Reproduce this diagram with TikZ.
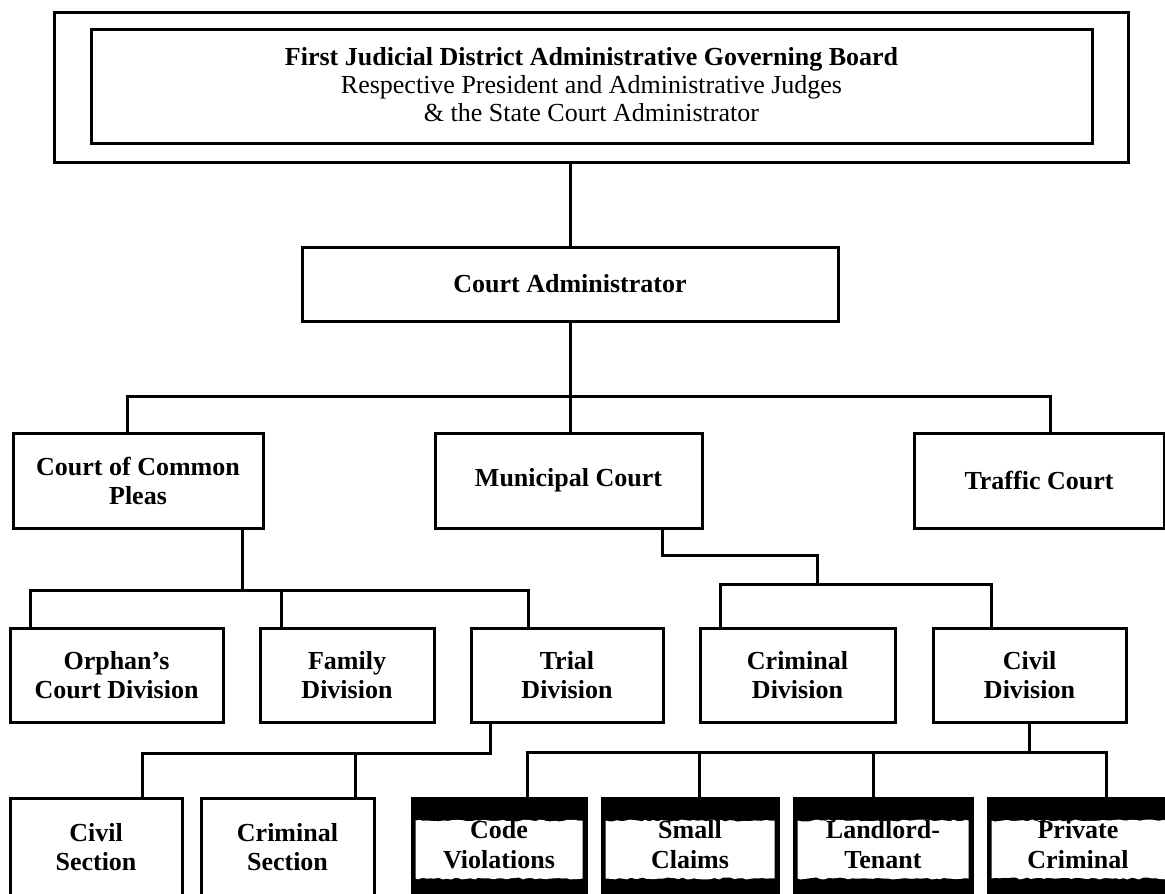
\documentclass[tikz,border=0pt]{standalone}
\usepackage{fontspec}
\setmainfont{Liberation Serif}
\usetikzlibrary{decorations.pathmorphing}
\begin{document}
\begin{tikzpicture}[x=1pt,y=-1pt,
  box/.style={draw, line width=3pt, fill=white, align=center, inner sep=0pt,
    font=\bfseries\fontsize{26}{29}\selectfont},
  darkbox/.style={draw, line width=3pt, fill=black, inner sep=0pt},
  lbl/.style={align=center, inner sep=0pt, font=\bfseries\fontsize{26}{30}\selectfont},
  conn/.style={line width=3pt},
  band/.style={fill=white, decoration={random steps, segment length=4pt, amplitude=1pt}}]
\useasboundingbox (0,0) rectangle (1165,894);
% top board
\node[draw, line width=3pt, minimum width=1074pt, minimum height=150pt] (outer) at (591,87) {};
\node[draw, line width=3pt, minimum width=1001pt, minimum height=114pt] (inner) at (591.5,86) {};
\node[align=center, inner sep=0pt, font=\fontsize{26}{28}\selectfont] (title) at (591.5,85)
  {\textbf{First Judicial District Administrative Governing Board}\\
   Respective President and Administrative Judges\\
   \& the State Court Administrator};
% court administrator
\node[box, minimum width=536pt, minimum height=74pt] (CA) at (570,284) {Court Administrator};
% first row
\node[box, minimum width=250pt, minimum height=95pt] (CCP) at (138,480.5) {Court of Common\\Pleas};
\node[box, minimum width=267pt, minimum height=95pt] (MC) at (568.5,480.5) {Municipal Court};
\node[box, minimum width=250pt, minimum height=95pt] (TC) at (1039,480.5) {Traffic Court};
% second row
\node[box, minimum width=213pt, minimum height=94pt] (Orphan) at (116.5,675) {Orphan's\\Court Division};
\node[box, minimum width=174pt, minimum height=94pt] (Family) at (347,675) {Family\\Division};
\node[box, minimum width=192pt, minimum height=94pt] (Trial) at (567,675) {Trial\\Division};
\node[box, minimum width=195pt, minimum height=94pt] (CrimDiv) at (797.5,675) {Criminal\\Division};
\node[box, minimum width=193pt, minimum height=94pt] (CivDiv) at (1029.5,675) {Civil\\Division};
% third row
\node[box, minimum width=172pt, minimum height=98pt] (CivSec) at (96,847) {Civil\\Section};
\node[box, minimum width=173pt, minimum height=98pt] (CrimSec) at (287.5,847) {Criminal\\Section};
\node[darkbox, minimum width=174pt, minimum height=98pt] (Code) at (499,847) {};
\node[darkbox, minimum width=176pt, minimum height=98pt] (Small) at (690,847) {};
\node[darkbox, minimum width=178pt, minimum height=98pt] (Land) at (883,847) {};
\node[darkbox, minimum width=187pt, minimum height=98pt] (Priv) at (1081.5,847) {};
\foreach \n in {Code,Small,Land,Priv}{
  \fill[band] ([xshift=5pt,yshift=19pt]\n.south west) -- ([xshift=5pt,yshift=-24pt]\n.north west)
    decorate{ -- ([xshift=-5pt,yshift=-24pt]\n.north east)}
    -- ([xshift=-5pt,yshift=19pt]\n.south east)
    decorate{ -- ([xshift=5pt,yshift=19pt]\n.south west)} -- cycle;
}
\node[lbl] (Code-t) at (499,845) {Code\\Violations};
\node[lbl] (Small-t) at (690,845) {Small\\Claims};
\node[lbl] (Land-t) at (883,845) {Landlord-\\Tenant};
\node[lbl] (Priv-t) at (1078,845) {Private\\Criminal};
% connectors
\coordinate (bus1) at (570,396);
\coordinate (b2) at (242,590);
\coordinate (m1) at (817,555);
\coordinate (m2) at (817,584);
\coordinate (t1) at (490,753);
\coordinate (c1) at (1029,752);
\draw[conn] (CA.north) -- (CA.north |- outer.south);
\draw[conn] (CA.south) -- (CA.south |- MC.north);
\draw[conn] ([xshift=-11pt]CCP.north) |- (bus1) -| ([xshift=11pt]TC.north);
\draw[conn] (CCP.south -| b2) -- (b2);
\draw[conn] ([xshift=-86.5pt]Orphan.north) |- ([xshift=-39pt]Trial.north |- b2) -- ([xshift=-39pt]Trial.north);
\draw[conn] ([xshift=-66pt]Family.north) -- ([xshift=-66pt]Family.north |- b2);
\draw[conn] ([xshift=93.5pt]MC.south) |- (m1) -- (m2);
\draw[conn] ([xshift=-77.5pt]CrimDiv.north) |- (m2) -| ([xshift=-38.5pt]CivDiv.north);
\draw[conn] (Trial.south -| t1) -- (t1) -| ([xshift=46pt]CivSec.north);
\draw[conn] ([xshift=67.5pt]CrimSec.north) -- ([xshift=67.5pt]CrimSec.north |- t1);
\draw[conn] (CivDiv.south -| c1) -- (c1) -| ([xshift=24.5pt]Priv.north);
\draw[conn] ([xshift=28pt]Code.north) |- (c1);
\draw[conn] ([xshift=9pt]Small.north) -- ([xshift=9pt]Small.north |- c1);
\draw[conn] ([xshift=-10pt]Land.north) -- ([xshift=-10pt]Land.north |- c1);
\end{tikzpicture}
\end{document}
